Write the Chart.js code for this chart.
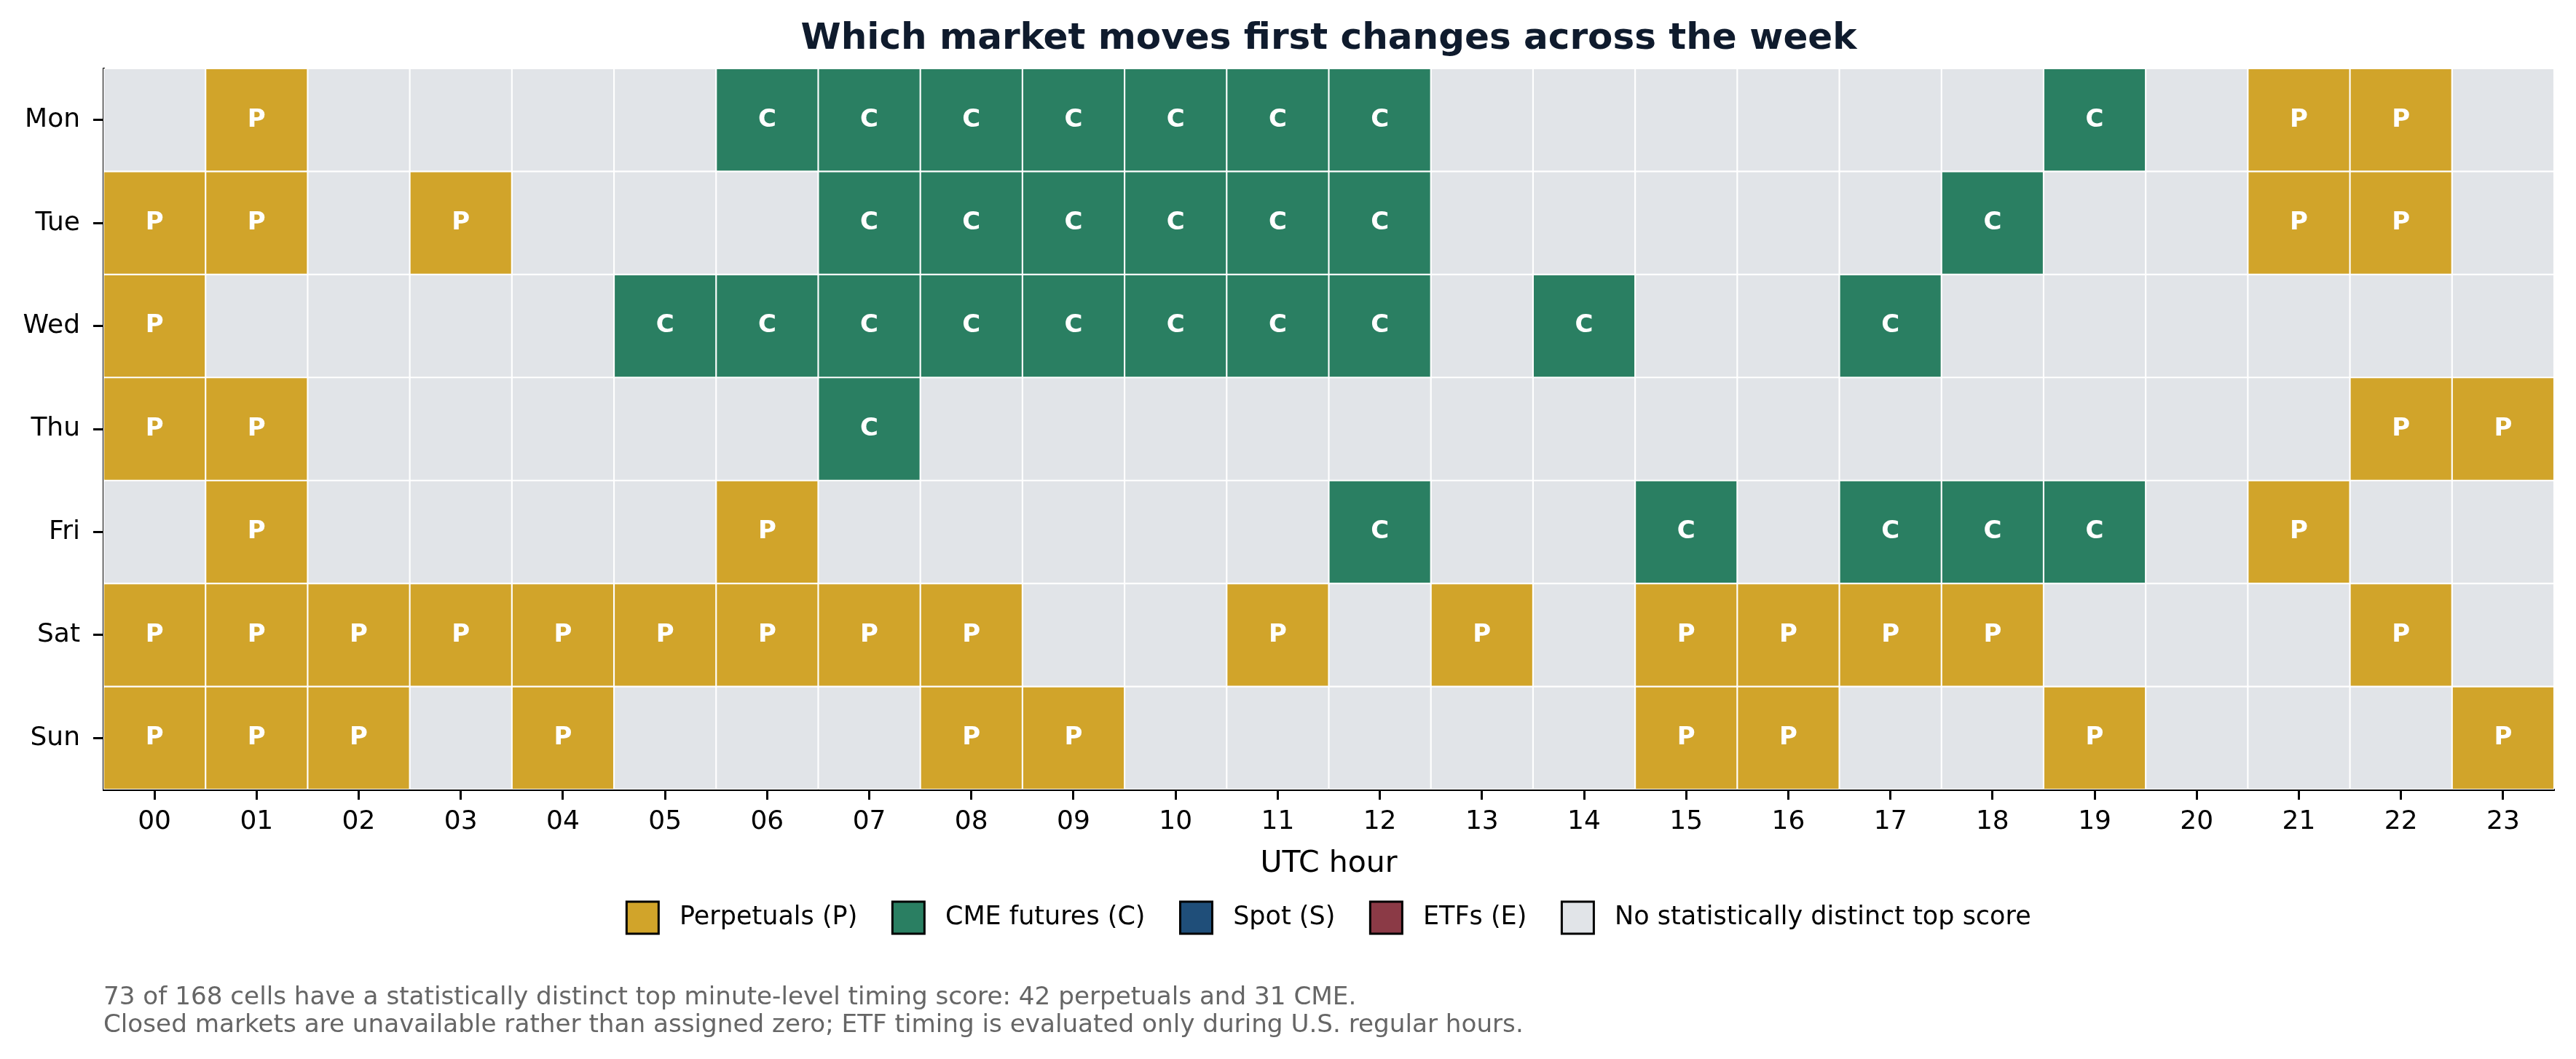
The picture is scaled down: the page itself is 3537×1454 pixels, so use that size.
<!DOCTYPE html>
<html>
<head>
<meta charset="utf-8">
<script src="https://cdn.jsdelivr.net/npm/chart.js@4.4.1/dist/chart.umd.min.js"></script>
<style>
  html, body { margin: 0; padding: 0; background: #fff; }
  #wrap { position: relative; width: 3537px; height: 1454px; }
  #note {
    position: absolute; left: 142px; top: 1348px;
    font-family: 'DejaVu Sans', sans-serif; font-size: 34.2px; line-height: 38px; color: #666;
  }
</style>
</head>
<body>
<div id="wrap">
  <canvas id="chart" width="3537" height="1454"></canvas>
  <div id="note">73 of 168 cells have a statistically distinct top minute-level timing score: 42 perpetuals and 31 CME.<br>Closed markets are unavailable rather than assigned zero; ETF timing is evaluated only during U.S. regular hours.</div>
</div>
<script>
// rows and columns
const days = ['Mon', 'Tue', 'Wed', 'Thu', 'Fri', 'Sat', 'Sun'];
const hours = ['00', '01', '02', '03', '04', '05', '06', '07', '08', '09', '10', '11',
               '12', '13', '14', '15', '16', '17', '18', '19', '20', '21', '22', '23'];

// which market leads in each hour ('.' = no distinct top score)
const monLead = '.P....CCCCCCC......C.PP.';
const tueLead = 'PP.P...CCCCCC.....C..PP.';
const wedLead = 'P....CCCCCCCC.C..C......';
const thuLead = 'PP.....C..............PP';
const friLead = '.P....P.....C..C.CCC.P..';
const satLead = 'PPPPPPPPP..P.P.PPPP...P.';
const sunLead = 'PPP.P...PP.....PP..P...P';
const leadRows = [monLead, tueLead, wedLead, thuLead, friLead, satLead, sunLead];

// legend categories
const marketCodes = ['P', 'C', 'S', 'E', '.'];
const marketNames = ['Perpetuals (P)', 'CME futures (C)', 'Spot (S)', 'ETFs (E)', 'No statistically distinct top score'];
const marketColors = ['#D1A42A', '#2A7F62', '#1F4E79', '#8B3A46', '#E1E4E8'];

const colorOf = {};
marketCodes.forEach((c, i) => colorOf[c] = marketColors[i]);

const datasets = days.map((d, i) => {
    const codes = leadRows[i].split('');
    return {
        label: d,
        data: hours.map(() => 1),
        codes: codes,
        backgroundColor: codes.map(c => colorOf[c]),
        borderColor: '#ffffff',
        borderWidth: 1.4,
        borderSkipped: false,
        categoryPercentage: 1,
        barPercentage: 1
    };
});

// letters in the coloured cells
const cellLetters = {
    id: 'cellLetters',
    afterDatasetsDraw(chart) {
        const ctx = chart.ctx;
        ctx.save();
        ctx.font = 'bold 34px "DejaVu Sans"';
        ctx.fillStyle = '#ffffff';
        ctx.textAlign = 'center';
        ctx.textBaseline = 'middle';
        chart.data.datasets.forEach((ds, di) => {
            chart.getDatasetMeta(di).data.forEach((bar, j) => {
                const c = ds.codes[j];
                if (c === '.') return;
                ctx.fillText(c, bar.x, (bar.y + bar.base) / 2);
            });
        });
        ctx.restore();
    }
};

Chart.defaults.font.family = '"DejaVu Sans", sans-serif';
Chart.defaults.color = '#000';

new Chart(document.getElementById('chart').getContext('2d'), {
    type: 'bar',
    data: { labels: hours, datasets: datasets },
    plugins: [cellLetters],
    options: {
        responsive: false,
        animation: false,
        devicePixelRatio: 1,
        layout: { padding: { left: 0, right: 30, top: 0, bottom: 162 } },
        plugins: {
            tooltip: { enabled: false },
            title: {
                display: true,
                fullSize: false,
                text: 'Which market moves first changes across the week',
                color: '#0f1b2d',
                font: { size: 50, weight: 'bold' },
                padding: { top: 24, bottom: 10 }
            },
            legend: {
                position: 'bottom',
                fullSize: false,
                onClick: () => {},
                labels: {
                    boxWidth: 44,
                    boxHeight: 44,
                    padding: 48,
                    font: { size: 35 },
                    color: '#000',
                    // leading space widens the gap between swatch and text
                    generateLabels: () => marketNames.map((n, i) => ({
                        text: ' ' + n,
                        fillStyle: marketColors[i],
                        strokeStyle: '#000',
                        lineWidth: 3,
                        hidden: false
                    }))
                }
            }
        },
        scales: {
            x: {
                stacked: true,
                offset: true,
                grid: { offset: false, drawOnChartArea: false, tickLength: 14, tickWidth: 3, tickColor: '#000' },
                border: { color: '#000', width: 3 },
                ticks: { font: { size: 36 }, padding: 9, maxRotation: 0, autoSkip: false },
                title: { display: true, text: 'UTC hour', font: { size: 41 }, padding: { top: 0, bottom: -21 } },
                afterFit: s => { s.height = 106; }
            },
            y: {
                type: 'linear',
                stacked: true,
                reverse: true,
                min: 0,
                max: 7,
                grid: { drawOnChartArea: false, tickLength: 14, tickWidth: 3, tickColor: '#000' },
                border: { color: '#000', width: 3 },
                ticks: { font: { size: 36 }, padding: 18, callback: (v, i) => days[i] },
                afterBuildTicks: s => { s.ticks = days.map((d, i) => ({ value: i + 0.5 })); },
                afterFit: s => { s.width = 142; }
            }
        }
    }
});
</script>
</body>
</html>
